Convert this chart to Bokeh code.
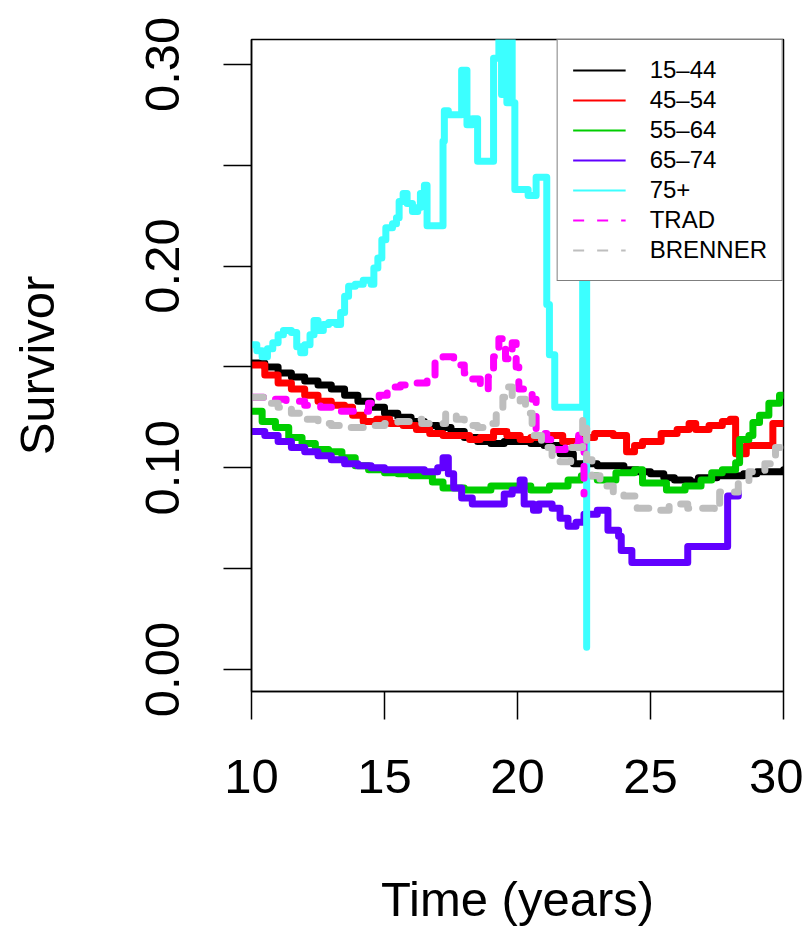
from bokeh.plotting import figure
from bokeh.models import Range1d, FixedTicker, PrintfTickFormatter, Legend, LegendItem
from bokeh.embed import file_html
from bokeh.resources import INLINE

# ---------------- data ----------------
time_15_44 = [10.0, 10.5, 11.0, 11.5, 12.0, 12.5, 13.0, 13.5, 14.0, 14.5, 15.0, 15.5, 16.0, 16.5,
              17.0, 17.5, 18.0, 18.5, 19.0, 19.5, 20.0, 20.5, 21.0, 21.6, 22.1, 22.5, 23.0, 23.5,
              24.0, 24.5, 25.0, 25.5, 25.9, 26.5, 26.8, 27.5, 28.0, 28.5, 29.0, 29.5, 30.0]
surv_15_44 = [0.152, 0.150, 0.147, 0.145, 0.143, 0.141, 0.139, 0.136, 0.133, 0.130, 0.127, 0.125,
              0.123, 0.121, 0.120, 0.118, 0.115, 0.113, 0.112, 0.113, 0.113, 0.112, 0.111, 0.107,
              0.102, 0.102, 0.101, 0.101, 0.099, 0.098, 0.097, 0.095, 0.094, 0.093, 0.095, 0.096,
              0.096, 0.097, 0.098, 0.098, 0.099]

time_45_54 = [10.0, 10.5, 11.0, 11.5, 12.0, 12.5, 13.0, 13.5, 13.8, 14.2, 14.7, 15.2, 15.7, 16.2,
              16.7, 17.2, 17.7, 18.2, 18.6, 19.1, 19.6, 20.1, 20.5, 21.0, 21.7, 22.3, 22.9, 23.6,
              24.1, 24.4, 24.7, 25.4, 26.0, 26.45, 26.7, 27.2, 27.7, 28.0, 28.2, 28.6, 29.6, 30.0]
surv_45_54 = [0.151, 0.146, 0.142, 0.139, 0.136, 0.133, 0.131, 0.130, 0.126, 0.123, 0.124, 0.122,
              0.121, 0.119, 0.117, 0.116, 0.116, 0.114, 0.115, 0.118, 0.116, 0.114, 0.115, 0.116,
              0.113, 0.115, 0.117, 0.116, 0.108, 0.111, 0.113, 0.117, 0.119, 0.122, 0.119, 0.121,
              0.123, 0.124, 0.107, 0.111, 0.122, 0.122]

time_55_64 = [10.0, 10.4, 10.9, 11.4, 11.9, 12.4, 12.9, 13.4, 13.9, 14.4, 15.0, 15.5, 16.0, 16.5,
              16.8, 17.2, 18.0, 19.0, 20.0, 20.5, 21.2, 21.9, 22.4, 23.0, 23.7, 24.4, 24.7, 25.6,
              26.3, 26.9, 27.3, 27.7, 28.2, 28.35, 28.7, 28.85, 29.1, 29.45, 29.85, 30.0]
surv_55_64 = [0.128, 0.123, 0.120, 0.115, 0.112, 0.109, 0.108, 0.105, 0.101, 0.099, 0.0975, 0.097,
              0.096, 0.096, 0.093, 0.090, 0.089, 0.091, 0.091, 0.089, 0.091, 0.094, 0.096, 0.094,
              0.0975, 0.099, 0.0925, 0.089, 0.091, 0.094, 0.0975, 0.099, 0.1025, 0.114, 0.116,
              0.1225, 0.126, 0.132, 0.136, 0.136]

time_65_74 = [10.0, 10.5, 11.0, 11.5, 12.0, 12.5, 13.0, 13.5, 14.0, 14.5, 15.0, 15.5, 16.0, 16.5,
              17.0, 17.2, 17.4, 17.6, 17.9, 18.3, 19.3, 19.5, 19.8, 20.1, 20.25, 20.6, 20.8, 21.3,
              21.6, 21.9, 22.2, 22.5, 23.0, 23.4, 23.8, 23.9, 24.3, 26.4, 27.9, 28.3]
surv_65_74 = [0.118, 0.116, 0.113, 0.110, 0.108, 0.106, 0.104, 0.102, 0.101, 0.100, 0.099, 0.099,
              0.099, 0.098, 0.100, 0.105, 0.097, 0.090, 0.085, 0.082, 0.082, 0.087, 0.089, 0.094,
              0.082, 0.079, 0.082, 0.080, 0.075, 0.071, 0.073, 0.077, 0.079, 0.069, 0.066, 0.059,
              0.053, 0.061, 0.086, 0.088]

time_75p = [10.0, 10.2, 10.4, 10.6, 10.8, 11.0, 11.2, 11.5, 11.7, 11.85, 12.0, 12.2, 12.35, 12.5,
            12.7, 12.9, 13.2, 13.35, 13.5, 13.65, 13.9, 14.2, 14.5, 14.6, 14.75, 14.9, 15.05, 15.3,
            15.45, 15.55, 15.7, 15.85, 16.05, 16.25, 16.35, 16.5, 16.6, 17.2, 17.25, 17.4, 17.9,
            18.1, 18.3, 18.5, 19.1, 19.3, 19.4, 19.5, 19.6, 19.7, 19.8, 19.9, 20.4, 20.7, 21.1,
            21.2, 21.4, 22.45, 22.6]
surv_75p = [0.161, 0.158, 0.155, 0.159, 0.162, 0.166, 0.168, 0.167, 0.160, 0.157, 0.161, 0.166,
            0.173, 0.168, 0.171, 0.172, 0.171, 0.177, 0.185, 0.190, 0.191, 0.193, 0.191, 0.199,
            0.204, 0.213, 0.219, 0.221, 0.224, 0.232, 0.236, 0.231, 0.227, 0.229, 0.236, 0.240,
            0.220, 0.262, 0.277, 0.275, 0.297, 0.270, 0.273, 0.252, 0.303, 0.320, 0.285, 0.320,
            0.281, 0.320, 0.281, 0.238, 0.235, 0.244, 0.181, 0.156, 0.130, 0.194, 0.011]

time_trad = [10.0, 10.5, 11.3, 12.0, 12.6, 13.2, 13.8, 14.4, 14.8, 15.1, 15.6, 16.1, 16.6, 16.9,
             17.2, 17.6, 18.0, 18.3, 18.6, 18.9, 19.1, 19.3, 19.55, 19.8, 19.95, 20.05, 20.55,
             20.7, 21.1, 21.25, 21.8, 22.3, 22.5]
surv_trad = [0.135, 0.134, 0.133, 0.131, 0.130, 0.128, 0.128, 0.132, 0.136, 0.140, 0.141, 0.142,
             0.144, 0.152, 0.155, 0.151, 0.147, 0.144, 0.139, 0.145, 0.155, 0.164, 0.154, 0.162,
             0.150, 0.139, 0.134, 0.117, 0.114, 0.109, 0.111, 0.117, 0.087]

time_brenner = [10.0, 10.5, 11.0, 11.5, 12.0, 12.5, 13.0, 13.5, 14.0, 14.5, 15.0, 15.5, 16.0, 16.4,
                17.0, 17.3, 17.7, 18.0, 18.5, 19.0, 19.2, 19.45, 19.6, 19.8, 20.1, 20.3, 20.55,
                20.9, 21.3, 21.6, 22.0, 22.45, 22.6, 22.8, 23.1, 23.6, 24.0, 24.5, 25.2, 25.7,
                26.4, 27.4, 27.6, 28.3, 28.7, 29.3, 29.7, 30.0]
surv_brenner = [0.135, 0.132, 0.130, 0.127, 0.124, 0.122, 0.121, 0.120, 0.120, 0.121, 0.122,
                0.123, 0.124, 0.122, 0.122, 0.127, 0.124, 0.121, 0.120, 0.122, 0.128, 0.135,
                0.140, 0.133, 0.134, 0.127, 0.116, 0.110, 0.106, 0.103, 0.110, 0.124, 0.104,
                0.096, 0.091, 0.088, 0.086, 0.080, 0.079, 0.082, 0.080, 0.079, 0.088, 0.093,
                0.098, 0.102, 0.110, 0.110]

series_names = ["15–44", "45–54", "55–64", "65–74", "75+", "TRAD", "BRENNER"]
series_times = [time_15_44, time_45_54, time_55_64, time_65_74, time_75p, time_trad, time_brenner]
series_surv = [surv_15_44, surv_45_54, surv_55_64, surv_65_74, surv_75p, surv_trad, surv_brenner]
series_colors = ["#000000", "#FF0000", "#00CD00", "#6100FF", "#3CFFFF", "#FF00FF", "#BEBEBE"]
series_dash = ["solid", "solid", "solid", "solid", "solid", "12 14", "12 14"]

x_ticks = [10, 15, 20, 25, 30]
y_ticks = [0.0, 0.1, 0.2, 0.3]
y_minor_ticks = [0.05, 0.15, 0.25]

FONT = "Liberation Sans"

p = figure(width=803, height=931, output_backend="svg", toolbar_location=None,
           x_range=Range1d(10, 30), y_range=Range1d(-0.0109, 0.3123),
           min_border_left=251, min_border_right=20, min_border_top=39, min_border_bottom=240)
p.grid.visible = False
p.outline_line_color = "black"
p.outline_line_width = 1.5
p.background_fill_color = "white"
p.border_fill_color = "white"

for t, s, c, d in zip(series_times, series_surv, series_colors, series_dash):
    p.step(x=t, y=s, mode="after", line_color=c, line_width=7, line_dash=d,
           line_cap="round", line_join="round")

# thin, hidden copies of each series that only serve as legend glyphs
items = []
for name, t, s, c, d in zip(series_names, series_times, series_surv, series_colors, series_dash):
    r = p.line(x=t, y=s, line_color=c, line_width=2,
               line_dash=("11 13" if d != "solid" else "solid"), visible=False)
    items.append(LegendItem(label=name, renderers=[r]))

legend = Legend(items=items, location="top_right", margin=0, padding=15, spacing=0,
                label_height=30, glyph_height=30, glyph_width=53, label_standoff=24,
                label_text_font=FONT, label_text_font_size="24px", label_text_color="black",
                border_line_color="black", border_line_width=1.5, background_fill_alpha=1.0,
                inactive_fill_alpha=0.0)
p.add_layout(legend)

# axes
xa = p.xaxis[0]
xa.ticker = FixedTicker(ticks=x_ticks)
xa.axis_label = "Time (years)"
ya = p.yaxis[0]
ya.ticker = FixedTicker(ticks=y_ticks, minor_ticks=y_minor_ticks)
ya.formatter = PrintfTickFormatter(format="%.2f")
ya.axis_label = "Survivor"
ya.major_label_orientation = "vertical"

for ax in (xa, ya):
    ax.axis_line_color = "black"
    ax.axis_line_width = 1.5
    ax.major_tick_line_color = "black"
    ax.major_tick_line_width = 1.5
    ax.major_tick_out = 28
    ax.major_tick_in = 0
    ax.major_label_text_font = FONT
    ax.major_label_text_font_size = "49px"
    ax.major_label_text_color = "black"
    ax.axis_label_text_font = FONT
    ax.axis_label_text_font_size = "49px"
    ax.axis_label_text_font_style = "normal"
    ax.axis_label_text_color = "black"

xa.minor_tick_line_color = None
ya.minor_tick_line_color = "black"
ya.minor_tick_line_width = 1.5
ya.minor_tick_out = 28
ya.minor_tick_in = 0

xa.major_label_standoff = 40
xa.axis_label_standoff = 76
ya.major_label_standoff = 44
ya.axis_label_standoff = 80

open("out.html", "w").write(file_html(p, INLINE))
